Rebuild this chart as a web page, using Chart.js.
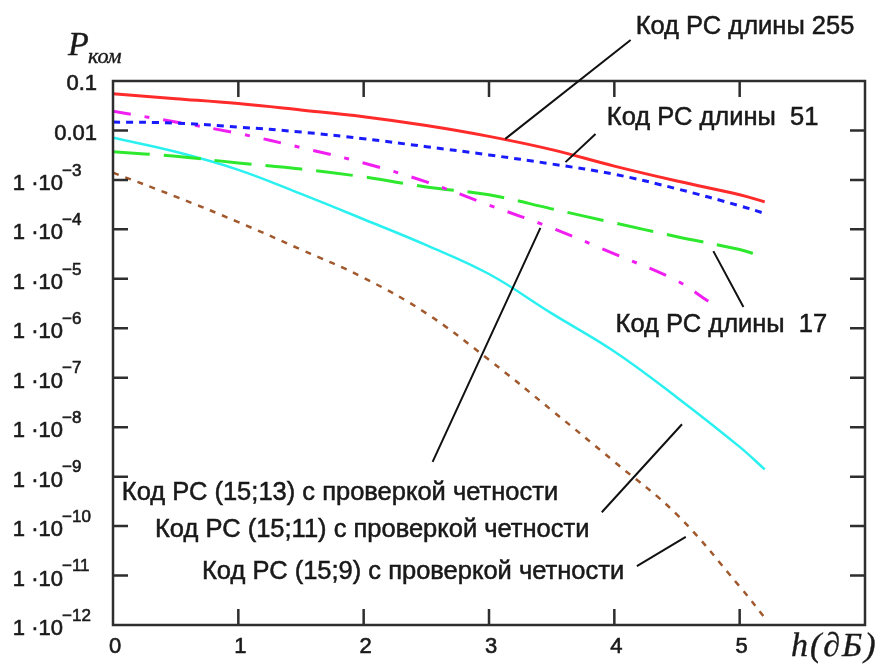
<!DOCTYPE html>
<html>
<head>
<meta charset="utf-8">
<script src="https://cdn.jsdelivr.net/npm/chart.js@4.4.0/dist/chart.umd.min.js"></script>
<style>
  html, body { margin: 0; padding: 0; background: #fff; }
  canvas { display: block; }
</style>
</head>
<body>
<canvas id="berChart" width="882" height="665"></canvas>
<script>
// h, dB
const hValues  = [0, 0.5, 1, 1.5, 2, 2.5, 3, 3.5, 4, 4.5, 5, 5.2];
const hMagenta = [0, 0.5, 1, 1.5, 2, 2.5, 3, 3.5, 4, 4.5, 4.75];
const hGreen   = [0, 0.5, 1, 1.5, 2, 2.5, 3, 3.5, 4, 4.5, 5, 5.15];

// P_ком
const rs255  = [0.055, 0.044, 0.035, 0.026, 0.019, 0.0126, 0.0076, 0.0041, 0.0019, 0.00095, 0.0005, 0.00036];
const rs51   = [0.0148, 0.0141, 0.0117, 0.0093, 0.0068, 0.0047, 0.0032, 0.0021, 0.0013, 0.00066, 0.0003, 0.00021];
const rs17   = [0.0037, 0.003, 0.0022, 0.00166, 0.00115, 0.00072, 0.0005, 0.00026, 0.000135, 7.1e-5, 3.9e-5, 3.0e-5];
const rs1513 = [0.0245, 0.0148, 0.0087, 0.0045, 0.0022, 0.00091, 0.00031, 0.000107, 3.2e-5, 9.1e-6, 3.5e-6];
const rs1511 = [7.1e-3, 3.7e-3, 1.6e-3, 5.2e-4, 1.6e-4, 4.8e-5, 1.25e-5, 2.0e-6, 3.4e-7, 4.0e-8, 4.0e-9, 1.4e-9];
const rs159  = [1.4e-3, 4.6e-4, 1.4e-4, 3.9e-5, 1.05e-5, 2.0e-6, 2.3e-7, 2.2e-8, 2.0e-9, 1.7e-10, 6.0e-12, 1.4e-12];

// axis ticks
const xTickValues = [0, 1, 2, 3, 4, 5];
const yTickValues = [0.1, 0.01, 1e-3, 1e-4, 1e-5, 1e-6, 1e-7, 1e-8, 1e-9, 1e-10, 1e-11, 1e-12];
const yTickBase   = ['0.1', '0.01', '1 ·10', '1 ·10', '1 ·10', '1 ·10', '1 ·10', '1 ·10', '1 ·10', '1 ·10', '1 ·10', '1 ·10'];
const yTickExp    = ['', '', '−3', '−4', '−5', '−6', '−7', '−8', '−9', '−10', '−11', '−12'];

// callouts: text, text anchor (h, P), leader line from/to (h, P)
const noteTexts = [
  'Код РС длины 255',
  'Код РС длины  51',
  'Код РС длины  17',
  'Код РС (15;13) с проверкой четности',
  'Код РС (15;11) с проверкой четности',
  'Код РС (15;9) с проверкой четности'
];
const noteAt   = [[4.17, 10 ** 0.09], [3.94, 10 ** -1.75], [4.01, 10 ** -5.93], [0.07, 10 ** -9.33], [0.335, 10 ** -10.08], [0.71, 10 ** -10.93]];
const noteFrom = [[4.13, 10 ** -0.17], [3.85, 10 ** -2.07], [4.79, 10 ** -4.44], [2.55, 10 ** -8.70], [3.90, 10 ** -9.72], [4.18, 10 ** -10.81]];
const noteTo   = [[3.13, 10 ** -2.17], [3.61, 10 ** -2.64], [5.03, 10 ** -5.57], [3.41, 10 ** -3.97], [4.54, 10 ** -7.94], [4.57, 10 ** -10.22]];

function pts(xs, ys) {
  return ys.map((v, i) => ({ x: xs[i], y: v }));
}

// filled text with a hairline stroke so it reads as heavy as the scan
function heavyText(ctx, txt, px, py) {
  ctx.fillText(txt, px, py);
  ctx.strokeText(txt, px, py);
}

const framePlugin = {
  id: 'mathcadFrame',
  afterDatasetsDraw(chart) {
    const { ctx, chartArea: a, scales: { x, y } } = chart;
    ctx.save();

    // box + inward ticks
    ctx.strokeStyle = '#2e2e2e';
    ctx.lineWidth = 2.5;
    ctx.strokeRect(a.left, a.top, a.right - a.left, a.bottom - a.top);
    ctx.beginPath();
    xTickValues.slice(1).forEach(v => {
      const px = x.getPixelForValue(v);
      ctx.moveTo(px, a.bottom); ctx.lineTo(px, a.bottom - 16);
      ctx.moveTo(px, a.top); ctx.lineTo(px, a.top + 16);
    });
    yTickValues.slice(1, -1).forEach(v => {
      const py = y.getPixelForValue(v);
      ctx.moveTo(a.left, py); ctx.lineTo(a.left + 15, py);
      ctx.moveTo(a.right, py); ctx.lineTo(a.right - 15, py);
    });
    ctx.stroke();

    // tick labels
    ctx.fillStyle = '#1a1a1a';
    ctx.strokeStyle = '#1a1a1a';
    ctx.lineWidth = 0.6;
    ctx.textBaseline = 'middle';
    ctx.font = '22px "Liberation Sans", Arial, sans-serif';
    ctx.textAlign = 'center';
    xTickValues.forEach(v => {
      heavyText(ctx, String(v), x.getPixelForValue(v) + 2, a.bottom + 22);
    });
    yTickValues.forEach((v, i) => {
      const py = y.getPixelForValue(v);
      ctx.font = '22px "Liberation Sans", Arial, sans-serif';
      ctx.textAlign = 'right';
      if (!yTickExp[i]) {
        heavyText(ctx, yTickBase[i], 97, py + 3);
      } else {
        heavyText(ctx, yTickBase[i], 63, py + 4);
        ctx.font = '17px "Liberation Sans", Arial, sans-serif';
        ctx.textAlign = 'left';
        heavyText(ctx, yTickExp[i], 62, py - 9);
      }
    });

    // axis titles
    ctx.textBaseline = 'alphabetic';
    ctx.textAlign = 'left';
    ctx.lineWidth = 0.4;
    ctx.font = 'italic 34px "Liberation Serif", "Times New Roman", serif';
    heavyText(ctx, 'P', 68, 55);
    ctx.font = 'italic 22px "Liberation Serif", "Times New Roman", serif';
    heavyText(ctx, 'ком', 88, 63);
    ctx.font = 'italic 34px "Liberation Serif", "Times New Roman", serif';
    ctx.letterSpacing = '2px';
    heavyText(ctx, 'h(∂Б)', 791, 656);
    ctx.letterSpacing = '0px';

    // callouts
    ctx.strokeStyle = '#111';
    ctx.lineWidth = 2;
    ctx.beginPath();
    noteFrom.forEach((f, i) => {
      const t = noteTo[i];
      ctx.moveTo(x.getPixelForValue(f[0]), y.getPixelForValue(f[1]));
      ctx.lineTo(x.getPixelForValue(t[0]), y.getPixelForValue(t[1]));
    });
    ctx.stroke();
    ctx.font = '25.5px "Liberation Sans", Arial, sans-serif';
    ctx.textBaseline = 'middle';
    ctx.lineWidth = 0.5;
    noteTexts.forEach((txt, i) => {
      heavyText(ctx, txt, x.getPixelForValue(noteAt[i][0]), y.getPixelForValue(noteAt[i][1]));
    });
    ctx.restore();
  }
};

const ctx = document.getElementById('berChart').getContext('2d');
const berChart = new Chart(ctx, {
  type: 'line',
  data: {
    datasets: [
      { label: 'Код РС длины 255', data: pts(hValues, rs255), borderColor: '#ff2a2a', borderWidth: 3 },
      { label: 'Код РС длины 51', data: pts(hValues, rs51), borderColor: '#1a1aff', borderWidth: 3, borderDash: [7, 6] },
      { label: 'Код РС (15;13)', data: pts(hMagenta, rs1513), borderColor: '#f01ef0', borderWidth: 3, borderDash: [18, 14, 5, 14] },
      { label: 'Код РС длины 17', data: pts(hGreen, rs17), borderColor: '#2ee82e', borderWidth: 3, borderDash: [37, 14] },
      { label: 'Код РС (15;11)', data: pts(hValues, rs1511), borderColor: '#2af0f0', borderWidth: 2.5 },
      { label: 'Код РС (15;9)', data: pts(hValues, rs159), borderColor: '#a0582c', borderWidth: 2.5, borderDash: [6, 7] }
    ]
  },
  options: {
    responsive: false,
    animation: false,
    layout: { padding: { left: 113, top: 81, right: 17, bottom: 40 } },
    elements: {
      point: { radius: 0 },
      line: { tension: 0.4, fill: false }
    },
    scales: {
      x: { type: 'linear', min: 0, max: 6, display: false },
      y: { type: 'logarithmic', min: 1e-12, max: 0.1, display: false }
    },
    plugins: {
      legend: { display: false },
      tooltip: { enabled: false }
    }
  },
  plugins: [framePlugin]
});
</script>
</body>
</html>
